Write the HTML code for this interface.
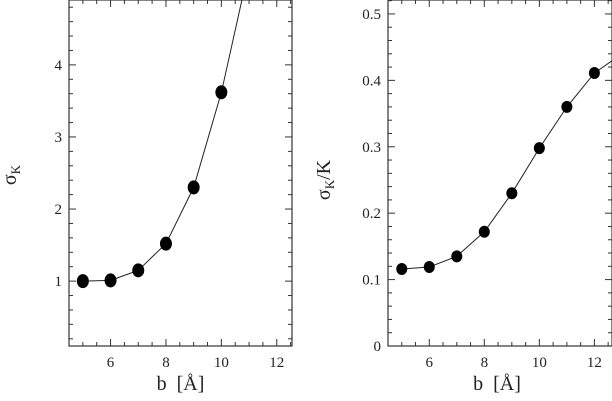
<!DOCTYPE html>
<html><head><meta charset="utf-8"><style>
html,body{margin:0;padding:0;background:#fff}
svg{display:block;font-family:"Liberation Serif","DejaVu Serif",serif}
</style></head><body>
<svg id="c" width="612" height="401" viewBox="0 0 612 401" xmlns="http://www.w3.org/2000/svg"></svg>
<script>
const bValuesLeft = [5, 6, 7, 8, 9, 10, 11];
const sigmaK = [1.0, 1.01, 1.15, 1.52, 2.30, 3.62, 5.35];
const bValuesRight = [5, 6, 7, 8, 9, 10, 11, 12, 13];
const sigmaKoverK = [0.116, 0.119, 0.135, 0.172, 0.230, 0.298, 0.360, 0.411, 0.44];
const xTicks = [6, 8, 10, 12];
const yTicksLeft = [1, 2, 3, 4];
const yTicksRight = [0, 0.1, 0.2, 0.3, 0.4, 0.5];
const yTickLabelsRight = ["0", "0.1", "0.2", "0.3", "0.4", "0.5"];

const svg = document.getElementById('c');
const NS = 'http://www.w3.org/2000/svg';
function mk(tag, attrs, parent){const e=document.createElementNS(NS,tag);for(const k in attrs)e.setAttribute(k,attrs[k]);(parent||svg).appendChild(e);return e;}

function panel(o){
  const g = mk('g',{});
  
  
  const sx = v => o.x0 + (v - o.xmin) / (o.xmax - o.xmin) * (o.x1 - o.x0);
  const sy = v => o.y1 - (v - o.ymin) / (o.ymax - o.ymin) * (o.y1 - o.y0);
  const clipId = o.name + '-clip';
  const cp = mk('clipPath',{id:clipId},g);
  mk('rect',{x:o.x0,y:o.y0,width:o.x1-o.x0,height:o.y1-o.y0},cp);
  const tk = mk('g',{stroke:'#333','stroke-width':1},g);
  
  
  for(let v=Math.ceil(o.xmin/o.xminor)*o.xminor; v<=o.xmax+1e-9; v+=o.xminor){
    const major = Math.abs(v/o.xmajor - Math.round(v/o.xmajor))<1e-6;
    const L = major?7:4, x=sx(v);
    mk('line',{x1:x,y1:o.y1,x2:x,y2:o.y1-L},tk);
    mk('line',{x1:x,y1:o.y0,x2:x,y2:o.y0+L},tk);
  }
  for(let v=Math.ceil(o.ymin/o.yminor-1e-9)*o.yminor; v<=o.ymax+1e-9; v+=o.yminor){
    const major = Math.abs(v/o.ymajor - Math.round(v/o.ymajor))<1e-6;
    const L = major?7:4, y=sy(v);
    mk('line',{x1:o.x0,y1:y,x2:o.x0+L,y2:y},tk);
    mk('line',{x1:o.x1,y1:y,x2:o.x1-L,y2:y},tk);
  }
  const fr = mk('rect',{x:o.x0,y:o.y0,width:o.x1-o.x0,height:o.y1-o.y0,fill:'none',stroke:'#333','stroke-width':1.2},g);
  
  
  xTicks.forEach(v=>{
    const t = mk('text',{x:sx(v),y:o.y1+21,'text-anchor':'middle','font-size':15,fill:'#222'},g);
    t.textContent = String(v);
    
    
  });
  o.yt.forEach((v,i)=>{
    const t = mk('text',{x:o.x0-7,y:sy(v)+5,'text-anchor':'end','font-size':15,fill:'#222'},g);
    t.textContent = o.ytl ? o.ytl[i] : String(v);
    
    
  });
  const data = mk('g',{'clip-path':'url(#'+clipId+')'},g);
  const pts = o.xs.map((x,i)=>sx(x).toFixed(1)+','+sy(o.ys[i]).toFixed(1)).join(' ');
  const line = mk('polyline',{points:pts,fill:'none',stroke:'#222','stroke-width':1},data);
  
  
  o.xs.forEach((x,i)=>{
    const c = mk('ellipse',{cx:sx(x),cy:sy(o.ys[i]),rx:o.rx,ry:o.ry,fill:'#000'},data);
    
    
  });
  const xl = mk('text',{x:(o.x0+o.x1)/2+ (o.xlOff||0),y:390,'text-anchor':'middle','font-size':20,fill:'#222'},g);
  xl.textContent = 'b\u2002[Å]';
  
  
  const yl = mk('text',{x:0,y:0,'text-anchor':'middle','font-size':20,fill:'#222',transform:'translate('+o.ylx+','+o.yly+') rotate(-90)'},g);
  yl.innerHTML = o.ylabel;
  
  
}

panel({name:'left-panel',x0:69,x1:292,y0:0,y1:346,xmin:4.5,xmax:12.55,ymin:0.1,ymax:4.9,
  xminor:0.5,xmajor:2,yminor:0.2,ymajor:1,xs:bValuesLeft,ys:sigmaK,yt:yTicksLeft,rx:6,ry:7,
  ylx:16,yly:175,ylabel:'σ<tspan font-size="13" dy="4">K</tspan>',xlOff:0});
panel({name:'right-panel',x0:388,x1:612,y0:0,y1:346,xmin:4.5,xmax:12.64,ymin:0,ymax:0.521,
  xminor:0.5,xmajor:2,yminor:0.02,ymajor:0.1,xs:bValuesRight,ys:sigmaKoverK,yt:yTicksRight,ytl:yTickLabelsRight,rx:5.5,ry:6,
  ylx:330,yly:180,ylabel:'σ<tspan font-size="13" dy="4">K</tspan><tspan dy="-4">/K</tspan>',xlOff:-3});
</script>
</body></html>
